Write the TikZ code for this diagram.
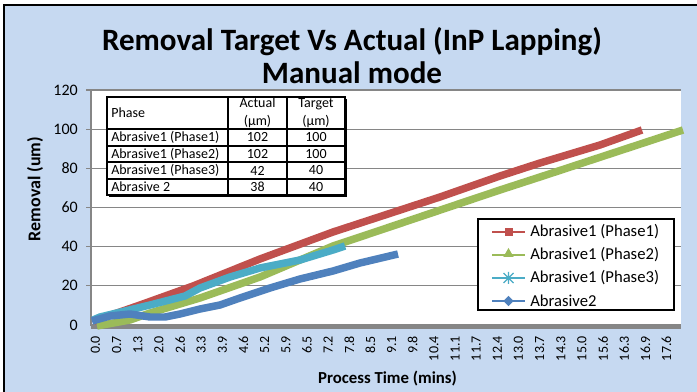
\documentclass[tikz,border=0pt]{standalone}
\usepackage{fontspec}
\setmainfont{Carlito}
\usetikzlibrary{shapes.geometric,calc}
\definecolor{bgblue}{RGB}{198,217,241}
\definecolor{sred}{RGB}{192,80,77}
\definecolor{sgreen}{RGB}{155,187,89}
\definecolor{scyan}{RGB}{75,172,198}
\definecolor{sblue}{RGB}{79,129,189}
\definecolor{gridgray}{RGB}{134,134,134}
\tikzset{
  series/.style={line width=5.6pt, line join=round, line cap=butt},
  yticklbl/.style={font=\fontsize{12}{14}\selectfont, inner sep=0pt},
  xticklbl/.style={font=\fontsize{10.5}{12}\selectfont, inner sep=0pt},
  tbltxt/.style={font=\fontsize{10.5}{11.5}\selectfont, inner sep=0pt},
  legtxt/.style={font=\fontsize{12.5}{14}\selectfont, inner sep=0pt, anchor=west},
  gridline/.style={gridgray, line width=0.9pt},
  tblline/.style={black, line width=0.8pt},
  titletxt/.style={font=\fontsize{23.3}{27}\selectfont\bfseries, inner sep=0pt},
}
\begin{document}
\begin{tikzpicture}[x=0.75pt,y=-0.75pt]
\useasboundingbox (0,0) rectangle (697,392);
\fill[bgblue] (4,5) rectangle (697,392);
\draw[black, line width=1.4pt] (4,392) -- (4,5) -- (697,5);
% title
\node[titletxt] (title1) at (352,42) {Removal Target Vs Actual (InP Lapping)};
\node[titletxt] (title2) at (352,73) {Manual mode};
% plot area
\fill[white] (91,90) rectangle (681,325);
\foreach \v in {20,40,...,120} {
  \draw[gridline] (86,{325-1.958*\v}) -- (681,{325-1.958*\v});
}
\foreach \v in {0,20,...,120} {
  \node[yticklbl, anchor=east] (yt\v) at (78,{325-1.958*\v}) {\v};
}
\draw[gridline] (91,90) -- (91,326);
\draw[gridgray, line width=3.8pt] (91,326.5) -- (681,326.5);
% x tick labels
\foreach \l [count=\i from 0] in {0.0,0.7,1.3,2.0,2.6,3.3,3.9,4.6,5.2,5.9,6.5,7.2,7.8,8.5,9.1,9.8,10.4,11.1,11.7,12.4,13.0,13.7,14.3,15.0,15.6,16.3,16.9,17.6} {
  \node[xticklbl, rotate=90, anchor=east] (xt\i) at ({95.5+21.15*\i},336) {\l};
}
% axis titles
\node[font=\fontsize{13.5}{15}\selectfont\bfseries, rotate=90, inner sep=0pt] (ylab) at (35,189) {Removal (um)};
\node[font=\fontsize{12.6}{15}\selectfont\bfseries, inner sep=0pt] (xlab) at (387.5,379) {Process Time (mins)};
% series
\draw[series, sred] (94,321) -- (140,305) -- (193,286) -- (260,259) -- (333,232) -- (440,197) -- (500,176) -- (540,163) -- (600,145) -- (642,130);
\draw[series, sgreen] (97,326) -- (130,320) -- (150,313) -- (200,298) -- (260,277) -- (333,246) -- (360,237) -- (500,190) -- (540,177) -- (683,130);
\draw[series, scyan] (93,320) -- (100,317) -- (150,305) -- (185,296) -- (200,288) -- (230,277) -- (260,268) -- (300,260) -- (333,250) -- (345,246);
\draw[series, sblue] (92,321) -- (110,316) -- (130,314) -- (150,317) -- (165,317) -- (180,314) -- (200,309) -- (220,305) -- (240,298) -- (270,288) -- (300,279) -- (333,271) -- (360,263) -- (398,254);
% table
\fill[white] (107,97) rectangle (345,195);
\foreach \yy in {129,146,162,179} { \draw[tblline] (107,\yy) -- (345,\yy); }
\draw[tblline] (228,97) -- (228,195);
\draw[tblline] (287,97) -- (287,195);
\draw[black, line width=1.2pt] (107,97) rectangle (345,195);
\draw[black, line width=1.2pt] (109,196.5) -- (346.5,196.5) -- (346.5,99);
\node[tbltxt, anchor=west] (hph) at (111,113) {Phase};
\node[tbltxt, align=center] (hac) at (257.5,113) {Actual\\[2pt](µm)};
\node[tbltxt, align=center] (hta) at (316,113) {Target\\[2pt](µm)};
\foreach \n/\a/\t/\yc [count=\r from 1] in {Abrasive1 (Phase1)/102/100/137.5, Abrasive1 (Phase2)/102/100/154, Abrasive1 (Phase3)/42/40/170.5, Abrasive 2/38/40/187} {
  \node[tbltxt, anchor=west] (rn\r) at (111,\yc) {\n};
  \node[tbltxt] (ra\r) at (257.5,\yc) {\a};
  \node[tbltxt] (rt\r) at (316,\yc) {\t};
}
% legend
\draw[draw=black, fill=white, line width=0.9pt] (478,219) rectangle (674,310);
\draw[sred, line width=1.4pt] (492,232) -- (525,232);
\node[fill=sred, minimum size=6pt, inner sep=0pt] (m1) at (508.5,232) {};
\node[legtxt] (l1) at (530,232) {Abrasive1 (Phase1)};
\draw[sgreen, line width=1.4pt] (492,255) -- (525,255);
\node[fill=sgreen, regular polygon, regular polygon sides=3, minimum size=9pt, inner sep=0pt] (m2) at (508.5,254) {};
\node[legtxt] (l2) at (530,255) {Abrasive1 (Phase2)};
\draw[scyan, line width=1.4pt] (492,278) -- (525,278);
\coordinate (m3) at (508.5,278);
\draw[scyan, line width=1pt] ($(m3)+(-5,-5)$) -- ($(m3)+(5,5)$) ($(m3)+(-5,5)$) -- ($(m3)+(5,-5)$) ($(m3)+(0,-6)$) -- ($(m3)+(0,6)$);
\node[legtxt] (l3) at (530,278) {Abrasive1 (Phase3)};
\draw[sblue, line width=1.4pt] (492,301) -- (525,301);
\node[fill=sblue, diamond, minimum size=8pt, inner sep=0pt] (m4) at (508.5,301) {};
\node[legtxt] (l4) at (530,301) {Abrasive2};
\end{tikzpicture}
\end{document}
